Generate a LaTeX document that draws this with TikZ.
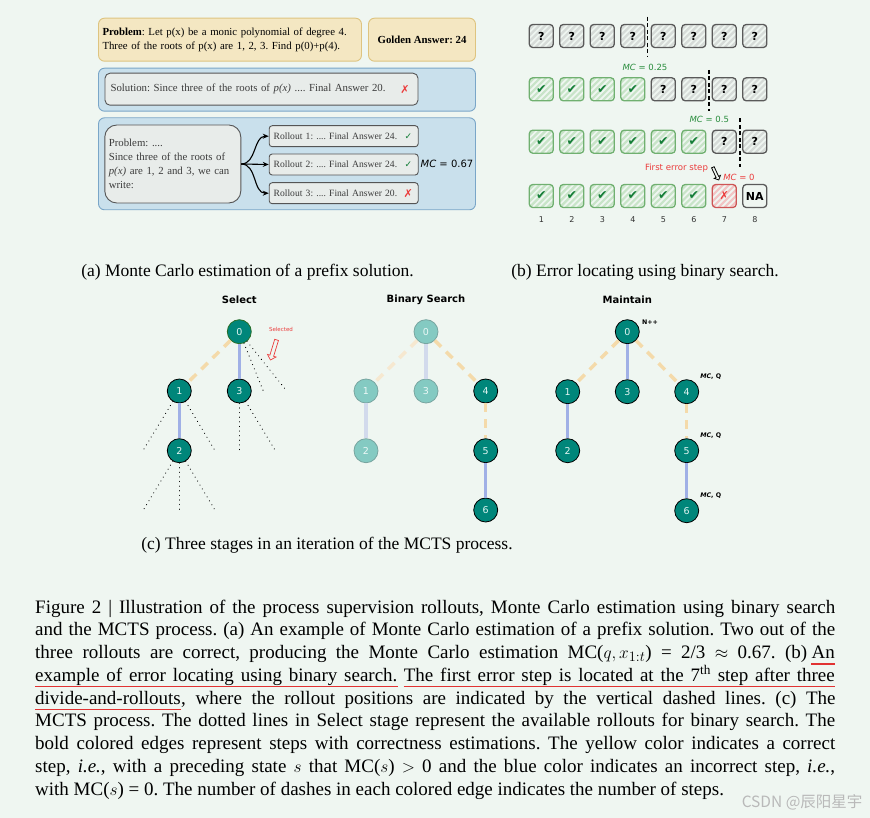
\documentclass[tikz,border=0pt]{standalone}
\usepackage{fontspec}
\setmainfont{Liberation Serif}
\newfontfamily\hand{DejaVu Sans}
\newfontfamily\cjk{Noto Sans CJK SC}
\usetikzlibrary{arrows.meta,shapes.arrows}
\definecolor{bg}{RGB}{239,246,241}
\definecolor{yfill}{RGB}{244,231,194}
\definecolor{ybord}{RGB}{222,196,128}
\definecolor{bfill}{RGB}{201,224,236}
\definecolor{bbord}{RGB}{122,166,200}
\definecolor{gfill}{RGB}{232,236,234}
\definecolor{gbord}{RGB}{85,85,85}
\definecolor{gtext}{RGB}{60,60,60}
\definecolor{qborder}{RGB}{90,90,90}
\definecolor{qhatch}{RGB}{214,219,216}
\definecolor{gborder}{RGB}{112,176,112}
\definecolor{ghatch}{RGB}{200,228,200}
\definecolor{ckgreen}{RGB}{20,125,55}
\definecolor{rborder}{RGB}{205,85,85}
\definecolor{rhatch}{RGB}{242,196,196}
\definecolor{xred}{RGB}{235,60,60}
\definecolor{mcgreen}{RGB}{40,140,60}
\definecolor{teal}{RGB}{0,134,122}
\definecolor{tealtext}{RGB}{225,245,242}
\definecolor{fadeteal}{RGB}{132,202,194}
\definecolor{fadebord}{RGB}{120,165,160}
\definecolor{fadetext}{RGB}{235,248,246}
\definecolor{edgey}{RGB}{244,218,170}
\definecolor{edgeb}{RGB}{160,176,230}
\definecolor{fadey}{RGB}{246,232,208}
\definecolor{fadeb}{RGB}{210,218,236}
\definecolor{ulred}{RGB}{225,50,50}
\definecolor{wm}{RGB}{185,185,185}
\definecolor{selgreen}{RGB}{40,110,40}
\newlength\mylen
\newlength\mylenb
\newcommand\ck{{\mdseries ✓}}
\newcommand\bck{{\mdseries\fontsize{12.5}{12.5}\selectfont ✔}}
\newcommand\xx{{\mdseries ✗}}
\newcommand\segA{example of error locating using binary search.}
\newcommand\segB{The first error step is located at the 7\textsuperscript{th} step after three}
\tikzset{
  ybox/.style={draw=ybord, fill=yfill, line width=0.9pt, rounded corners=6pt, align=left, font=\fontsize{10.8}{14.4}\selectfont},
  bbox/.style={draw=bbord, fill=bfill, line width=0.9pt, rounded corners=6pt},
  gbox/.style={draw=gbord, fill=gfill, line width=0.9pt, rounded corners=5pt, align=left, text=gtext, font=\fontsize{10.8}{14}\selectfont},
  rbox/.style={gbox, rounded corners=3pt, minimum width=149pt, minimum height=21pt, text width=140pt, font=\fontsize{9.6}{11}\selectfont},
  okmark/.style={text=ckgreen, font=\hand\fontsize{9}{9}\selectfont, inner sep=0pt},
  badmark/.style={text=xred, font=\hand\fontsize{11}{11}\selectfont, inner sep=0pt},
  arr/.style={-{Stealth[length=6pt,width=5pt]}, line width=1.1pt, draw=black},
  hatch/.style={path picture={\foreach \k in {-30,-24,...,24}{\draw[line width=2.2pt, draw=#1] ([xshift=\k pt]path picture bounding box.south west) -- ++(30pt,30pt);}}},
  cellbox/.style={draw, line width=1.3pt, rounded corners=3.5pt, minimum width=24pt, minimum height=23pt, inner sep=0pt, font=\hand\bfseries\fontsize{11}{11}\selectfont},
  qcell/.style={cellbox, draw=qborder, hatch=qhatch},
  gcell/.style={cellbox, draw=gborder, hatch=ghatch, text=ckgreen},
  rcell/.style={cellbox, draw=rborder, hatch=rhatch, text=xred},
  nacell/.style={cellbox, draw=qborder},
  numlab/.style={font=\hand\fontsize{8}{8}\selectfont, text=black!80},
  vdash/.style={line width=1.5pt, dash pattern=on 4pt off 2.5pt},
  mclab/.style={font=\hand\fontsize{8.5}{8.5}\selectfont, inner sep=0pt},
  tn/.style={circle, draw=black, line width=0.8pt, fill=teal, minimum size=24pt, inner sep=0pt, text=tealtext, font=\hand\fontsize{9.5}{9.5}\selectfont},
  tf/.style={tn, fill=fadeteal, draw=fadebord, text=fadetext},
  yedge/.style={line width=3.5pt, draw=edgey, dash pattern=on 9pt off 7pt},
  bedge/.style={line width=3.5pt, draw=edgeb},
  yfade/.style={line width=3.5pt, draw=fadey, dash pattern=on 9pt off 7pt},
  bfade/.style={line width=3.5pt, draw=fadeb},
  dotl/.style={line width=1.2pt, dash pattern=on 0.01pt off 4.6pt, line cap=round},
  ttl/.style={font=\hand\bfseries\fontsize{10}{10}\selectfont},
  tlab/.style={font=\hand\bfseries\fontsize{6.3}{6.3}\selectfont, inner sep=0pt},
  subcap/.style={font=\fontsize{17.5}{19}\selectfont},
  captext/.style={anchor=base west, inner sep=0pt, font=\fontsize{19}{22}\selectfont},
  redline/.style={draw=ulred, line width=1.2pt}
}
\begin{document}
\frenchspacing
\begin{tikzpicture}[x=1pt,y=-1pt]
\path[use as bounding box, fill=bg] (0,0) rectangle (870,818);

% ---------- panel (a)
\node[ybox, minimum width=263pt, minimum height=43pt, text width=255pt] (prob) at (230,39.7)
  {\textbf{Problem}: Let p(x) be a monic polynomial of degree 4.\\Three of the roots of p(x) are 1, 2, 3. Find p(0)+p(4).};
\node[ybox, minimum width=107pt, minimum height=43pt, align=center] (gold) at (422,39.7) {\textbf{Golden Answer: 24}};
\node[bbox, minimum width=377pt, minimum height=43pt] (solout) at (287,89.7) {};
\node[gbox, minimum width=313pt, minimum height=32pt, text width=302pt] (solin) at (261.5,89.2)
  {Solution: Since three of the roots of \textit{p(x)} .... Final Answer 20.};
\node[badmark] (solx) at (405,89.2) {\xx};
\node[bbox, minimum width=377pt, minimum height=92pt] (rollout) at (287,163.8) {};
\node[gbox, rounded corners=12pt, minimum width=136pt, minimum height=78pt, text width=128pt] (pin) at (172.8,164)
  {Problem: ....\\Since three of the roots of\\\textit{p(x)} are 1, 2 and 3, we can\\write:};
\node[rbox] (r1) at (343.7,136.2) {Rollout 1: .... Final Answer 24.};
\node[rbox] (r2) at (343.7,164.5) {Rollout 2: .... Final Answer 24.};
\node[rbox] (r3) at (343.7,193.2) {Rollout 3: .... Final Answer 20.};
\node[okmark] (k1) at (408.3,136.2) {\ck};
\node[okmark] (k2) at (408.3,164.5) {\ck};
\node[badmark] (k3) at (408.3,193.2) {\xx};
\draw[arr] (pin.east) to[out=0,in=180] (r1.west);
\draw[arr] (pin.east) -- (r2.west);
\draw[arr] (pin.east) to[out=0,in=180] (r3.west);
\node[font=\hand\fontsize{10}{10}\selectfont, inner sep=0pt] (mc) at (447,164.3) {\textit{MC} = 0.67};

% ---------- panel (b)
\foreach \i in {1,...,8}{\node[qcell] (a\i) at ({541.3+30.5*(\i-1)},36) {?};}
\foreach \i in {1,...,4}{\node[gcell] (b\i) at ({541.3+30.5*(\i-1)},89.3) {\bck};}
\foreach \i in {5,...,8}{\node[qcell] (b\i) at ({541.3+30.5*(\i-1)},89.3) {?};}
\foreach \i in {1,...,6}{\node[gcell] (c\i) at ({541.3+30.5*(\i-1)},141.7) {\bck};}
\foreach \i in {7,8}{\node[qcell] (c\i) at ({541.3+30.5*(\i-1)},141.7) {?};}
\foreach \i in {1,...,6}{\node[gcell] (d\i) at ({541.3+30.5*(\i-1)},196) {\bck};}
\node[rcell] (d7) at (724.3,196) {\xx};
\node[nacell] (d8) at (754.8,196) {NA};
\foreach \i in {1,...,8}{\node[numlab] (n\i) at ({541.3+30.5*(\i-1)},220) {\i};}
\coordinate (v1t) at (647.7,16.7); \coordinate (v1b) at (647.7,57.3);
\coordinate (v2t) at (709,70);     \coordinate (v2b) at (709,111);
\coordinate (v3t) at (740,118.3);  \coordinate (v3b) at (740,166.7);
\draw[vdash] (v1t) -- (v1b);
\draw[vdash] (v2t) -- (v2b);
\draw[vdash] (v3t) -- (v3b);
\node[mclab, text=mcgreen] (mc1) at (645,67.3) {\textit{MC} = 0.25};
\node[mclab, text=mcgreen] (mc2) at (709.3,119.3) {\textit{MC} = 0.5};
\node[mclab, text=xred] (mc3) at (739,177.3) {\textit{MC} = 0};
\node[mclab, text=xred, font=\hand\fontsize{8.6}{8.6}\selectfont] (fes) at (676.5,167.7) {First error step};
\node[single arrow, draw=black, fill=bg, line width=0.8pt, inner sep=1pt, minimum height=14pt,
  single arrow head extend=2pt, rotate=-65] (fesarr) at (715.5,173) {};

% ---------- panel (c): Select
\node[ttl] (tsel) at (239.3,300) {Select};
\node[tn, draw=selgreen] (s0) at (239.3,331.7) {0};
\node[tn] (s1) at (179.3,391) {1};
\node[tn] (s3) at (239.3,391) {3};
\node[tn] (s2) at (179.3,450.7) {2};
\draw[yedge] (s0) -- (s1);
\draw[bedge] (s0) -- (s3);
\draw[bedge] (s1) -- (s2);
\coordinate (sd01) at (263.3,391); \coordinate (sd02) at (286.7,391);
\coordinate (sd11) at (143.3,450); \coordinate (sd12) at (215,450.7);
\coordinate (sd31) at (239.3,450); \coordinate (sd32) at (275,450);
\coordinate (sd21) at (143.3,510); \coordinate (sd22) at (179.3,510); \coordinate (sd23) at (215,510);
\draw[dotl] (s0) -- (sd01);
\draw[dotl] (s0) -- (sd02);
\draw[dotl] (s1) -- (sd11);
\draw[dotl] (s1) -- (sd12);
\draw[dotl] (s3) -- (sd31);
\draw[dotl] (s3) -- (sd32);
\draw[dotl] (s2) -- (sd21);
\draw[dotl] (s2) -- (sd22);
\draw[dotl] (s2) -- (sd23);
\node[text=xred, font=\hand\fontsize{5.5}{5.5}\selectfont] (seltxt) at (281,329.3) {Selected};
\node[single arrow, draw=xred, fill=bg, line width=0.7pt, inner sep=1.6pt, minimum height=21pt,
  single arrow head extend=2.5pt, rotate=-107] (selarr) at (273.8,349) {};

% ---------- Binary Search
\node[ttl] (tbin) at (426,300) {Binary Search};
\node[tf] (q0) at (426,331.7) {0};
\node[tf] (q1) at (366,391) {1};
\node[tf] (q3) at (426,391) {3};
\node[tn] (q4) at (485.7,391) {4};
\node[tf] (q2) at (366,450.7) {2};
\node[tn] (q5) at (485.7,450.7) {5};
\node[tn] (q6) at (485.7,510) {6};
\draw[yfade] (q0) -- (q1);
\draw[bfade] (q0) -- (q3);
\draw[bfade] (q1) -- (q2);
\draw[yedge] (q0) -- (q4);
\draw[yedge] (q4) -- (q5);
\draw[bedge] (q5) -- (q6);

% ---------- Maintain
\node[ttl] (tmain) at (627.3,300) {Maintain};
\node[tn] (m0) at (627.3,331.7) {0};
\node[tn] (m1) at (567.7,391.7) {1};
\node[tn] (m3) at (627.3,391.7) {3};
\node[tn] (m4) at (686.7,391.7) {4};
\node[tn] (m2) at (567.7,450.7) {2};
\node[tn] (m5) at (686.7,450.7) {5};
\node[tn] (m6) at (686.7,510.7) {6};
\draw[yedge] (m0) -- (m1);
\draw[bedge] (m0) -- (m3);
\draw[bedge] (m1) -- (m2);
\draw[yedge] (m0) -- (m4);
\draw[yedge] (m4) -- (m5);
\draw[bedge] (m5) -- (m6);
\node[tlab] (lN) at (650,322.7) {N++};
\node[tlab] (l4) at (710.7,376.7) {\textit{MC}, Q};
\node[tlab] (l5) at (710.7,436) {\textit{MC}, Q};
\node[tlab] (l6) at (710.7,496) {\textit{MC}, Q};

% ---------- sub-captions
\node[subcap] (capa) at (247.5,272) {(a) Monte Carlo estimation of a prefix solution.};
\node[subcap] (capb) at (645,272) {(b) Error locating using binary search.};
\node[subcap] (capc) at (327,545) {(c) Three stages in an iteration of the MCTS process.};

% ---------- caption
\node[captext] (cl1) at (35,613) {\makebox[800pt][s]{Figure 2 | Illustration of the process supervision rollouts, Monte Carlo estimation using binary search}};
\node[captext] (cl2) at (35,635.75) {\makebox[800pt][s]{and the MCTS process. (a) An example of Monte Carlo estimation of a prefix solution. Two out of the}};
\node[captext] (cl3) at (35,658.5) {\settowidth{\mylen}{\ An}\makebox[\dimexpr800pt-\mylen\relax][s]{three rollouts are correct, producing the Monte Carlo estimation MC($q, x_{1:t}$) = 2/3 $\approx$ 0.67. (b)}};
\node[captext, anchor=base east] (cl3u) at (835,658.5) {An};
\node[captext] (cl4u) at (35,681.25) {\settowidth{\mylen}{\segA\ \segB}\settowidth{\mylenb}{\segA}\makebox[\dimexpr\mylenb+(800pt-\mylen)*6/18\relax][s]{\segA}};
\node[captext, anchor=base east] (cl4v) at (835,681.25) {\settowidth{\mylen}{\segA\ \segB}\settowidth{\mylenb}{\segB}\makebox[\dimexpr\mylenb+(800pt-\mylen)*11/18\relax][s]{\segB}};
\node[captext] (cl5u) at (35,704) {divide-and-rollouts};
\node[captext] (cl5) at (cl5u.base east) {\settowidth{\mylen}{divide-and-rollouts}\makebox[\dimexpr800pt-\mylen\relax][s]{, where the rollout positions are indicated by the vertical dashed lines. (c) The}};
\node[captext] (cl6) at (35,726.75) {\makebox[800pt][s]{MCTS process. The dotted lines in Select stage represent the available rollouts for binary search. The}};
\node[captext] (cl7) at (35,749.5) {\makebox[800pt][s]{bold colored edges represent steps with correctness estimations. The yellow color indicates a correct}};
\node[captext] (cl8) at (35,772.25) {\makebox[800pt][s]{step, \textit{i.e.}, with a preceding state $s$ that MC($s$) $>$ 0 and the blue color indicates an incorrect step, \textit{i.e.},}};
\node[captext] (cl9) at (35,795) {with MC($s$) = 0. The number of dashes in each colored edge indicates the number of steps.};
\draw[redline] ([yshift=-5.5pt]cl3u.base west) -- ([yshift=-5.5pt]cl3u.base east);
\draw[redline] ([yshift=-5.5pt]cl4u.base west) -- ([yshift=-5.5pt]cl4u.base east);
\draw[redline] ([yshift=-5.5pt]cl4v.base west) -- ([yshift=-5.5pt]cl4v.base east);
\draw[redline] ([yshift=-5.5pt]cl5u.base west) -- ([yshift=-5.5pt]cl5u.base east);
\node[anchor=east, text=wm, font=\cjk\fontsize{15.5}{16}\selectfont] (wmk) at (866,802) {CSDN @辰阳星宇};
\end{tikzpicture}
\end{document}
